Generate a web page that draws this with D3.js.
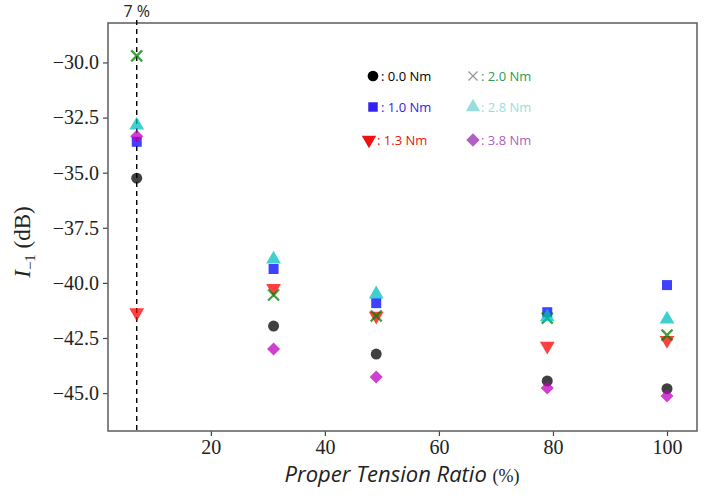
<!DOCTYPE html>
<html>
<head>
<meta charset="utf-8">
<script src="https://cdn.jsdelivr.net/npm/d3@7"></script>
<style>
  body { margin: 0; background: #fff; }
  svg { display: block; }
  .tick text { font-family: "Liberation Serif", "DejaVu Serif", serif; font-size: 20px; fill: #222; }
</style>
</head>
<body>
<svg width="708" height="496"></svg>
<script>
const ratios = [7, 31, 49, 79, 100];
const torques = ["0.0 Nm", "1.0 Nm", "1.3 Nm", "2.0 Nm", "2.8 Nm", "3.8 Nm"];
const values00 = [-35.25, -41.96, -43.23, -44.45, -44.8];
const values10 = [-33.6, -39.37, -40.92, -41.33, -40.1];
const values13 = [-41.35, -40.24, -41.5, -42.86, -42.6];
const values20 = [-29.7, -40.55, -41.5, -41.6, -42.37];
const values28 = [-32.85, -38.93, -40.51, -41.55, -41.65];
const values38 = [-33.35, -43.0, -44.27, -44.77, -45.13];
const yTicks = [-30, -32.5, -35, -37.5, -40, -42.5, -45];
const xTicks = [20, 40, 60, 80, 100];

const seriesValues = [values00, values10, values13, values20, values28, values38];

// marker look for each torque
const styles = [
  { color: "#000000", symbol: d3.symbolCircle, size: 95, rotate: 0 },
  { color: "#0000ff", symbol: d3.symbolSquare, size: 100, rotate: 0 },
  { color: "#ff0000", symbol: d3.symbolTriangle, size: 95, rotate: 180 },
  { color: "#008000", symbol: d3.symbolTimes, size: 80, rotate: 0, stroke: true },
  { color: "#00bfbf", symbol: d3.symbolTriangle, size: 95, rotate: 0 },
  { color: "#bf00bf", symbol: d3.symbolSquare, size: 85, rotate: 45 },
];

const svg = d3.select("svg");
const plotL = 108, plotR = 697, plotT = 23, plotB = 431;

const x = d3.scaleLinear().domain([1.96, 105.26]).range([plotL, plotR]);
const y = d3.scaleLinear().domain([-46.72, -28.21]).range([plotB, plotT]);

// axes
const xAxis = svg.append("g")
  .attr("transform", `translate(0,${plotB})`)
  .call(d3.axisBottom(x).tickValues(xTicks).tickSize(5).tickPadding(4).tickFormat(d3.format("d")));
const yAxis = svg.append("g")
  .attr("transform", `translate(${plotL},0)`)
  .call(d3.axisLeft(y).tickValues(yTicks).tickSize(5).tickPadding(4).tickFormat(d => d3.format(".1f")(d).replace("-", "\u2212")));

[xAxis, yAxis].forEach(a => {
  a.attr("font-family", "Liberation Serif").attr("font-size", 20);
  a.select(".domain").remove();
  a.selectAll(".tick line").attr("stroke", "#444").attr("stroke-width", 1.2);
});

// frame
svg.append("rect")
  .attr("x", plotL).attr("y", plotT)
  .attr("width", plotR - plotL).attr("height", plotB - plotT)
  .attr("fill", "none").attr("stroke", "#666").attr("stroke-width", 1.6);

// dashed line at 7 %
svg.append("line")
  .attr("x1", x(7)).attr("x2", x(7))
  .attr("y1", plotT - 3).attr("y2", plotB)
  .attr("stroke", "#000").attr("stroke-width", 1.4)
  .attr("stroke-dasharray", "5,4");

svg.append("text")
  .attr("x", x(7)).attr("y", 17)
  .attr("text-anchor", "middle")
  .attr("font-family", "Open Sans")
  .attr("font-size", 16)
  .attr("fill", "#222")
  .text("7 %");

// points
seriesValues.forEach((vals, i) => {
  const s = styles[i];
  const sym = d3.symbol().type(s.symbol).size(s.size);
  svg.append("g").selectAll("path")
    .data(vals.map((v, j) => ({ x: ratios[j], y: v })))
    .join("path")
    .attr("d", sym)
    .attr("transform", d => `translate(${x(d.x)},${y(d.y)}) rotate(${s.rotate})`)
    .attr("fill", s.stroke ? "none" : s.color)
    .attr("stroke", s.stroke ? s.color : "none")
    .attr("stroke-width", s.stroke ? 2.3 : 0)
    .attr("opacity", 0.75);
});

// hand-made legend (text overlay)
const legendColors = ["#000000", "#3322ee", "#ee1111", "#2a9d58", "#99dede", "#b060c0"];
const legendMarks = ["#000000", "#3322ee", "#ee1111", "#999999", "#99dede", "#b060c0"];
const legendPos = [[373, 76], [373, 107], [369, 140], [473, 76], [473, 107], [473, 140]];
torques.forEach((t, i) => {
  const s = styles[i];
  const [lx, ly] = legendPos[i];
  svg.append("path")
    .attr("d", d3.symbol().type(s.symbol).size(s.stroke ? 55 : 90)())
    .attr("transform", `translate(${lx},${ly}) rotate(${s.rotate})`)
    .attr("fill", s.stroke ? "none" : legendMarks[i])
    .attr("stroke", s.stroke ? legendMarks[i] : "none")
    .attr("stroke-width", s.stroke ? 1.3 : 0);
  svg.append("text")
    .attr("x", lx + 8).attr("y", ly + 5)
    .attr("font-family", "Open Sans")
    .attr("font-size", 13)
    .attr("fill", legendColors[i])
    .text(": " + t);
});

// axis titles
const yl = svg.append("text")
  .attr("transform", "translate(30,242) rotate(-90)")
  .attr("text-anchor", "middle")
  .attr("font-family", "Liberation Serif")
  .attr("font-size", 23)
  .attr("fill", "#222");
yl.append("tspan").attr("font-style", "italic").text("I");
yl.append("tspan").attr("dy", 5).attr("font-size", 15).text("\u22121");
yl.append("tspan").attr("dy", -5).text(" (dB)");

const xl = svg.append("text")
  .attr("x", 402).attr("y", 482)
  .attr("text-anchor", "middle")
  .attr("fill", "#222");
xl.append("tspan")
  .attr("font-family", "Open Sans")
  .attr("font-style", "italic")
  .attr("font-size", 22)
  .text("Proper Tension Ratio ");
xl.append("tspan")
  .attr("font-family", "Liberation Serif")
  .attr("font-size", 18)
  .text("(%)");
</script>
</body>
</html>
